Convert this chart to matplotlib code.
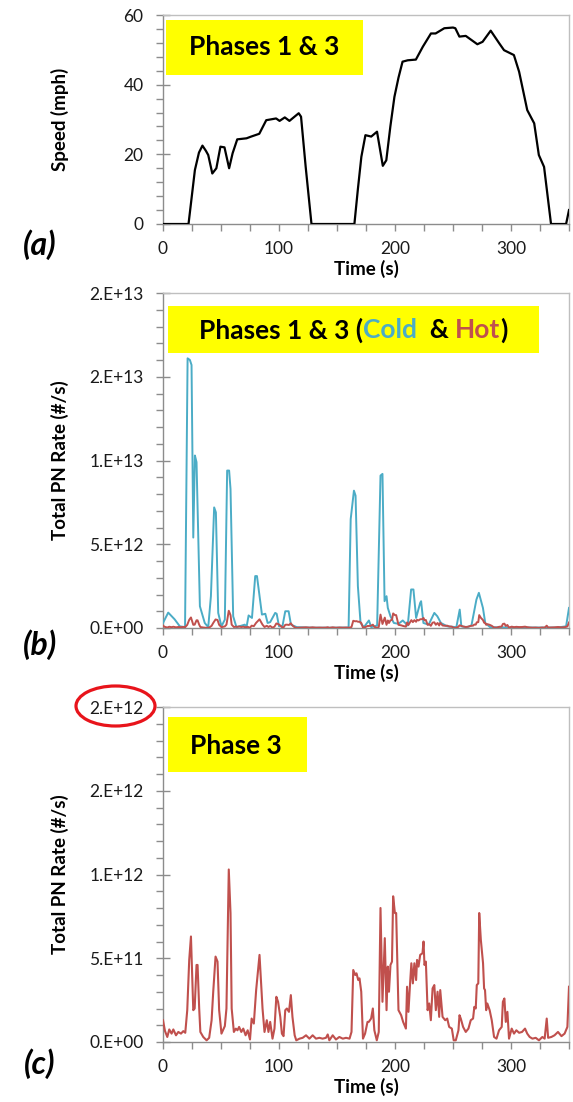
import matplotlib
matplotlib.use('Agg')
import matplotlib.pyplot as plt
from matplotlib.patches import Rectangle, Ellipse
from matplotlib.ticker import MultipleLocator, FuncFormatter

plt.rcParams['font.family'] = ['Lato', 'DejaVu Sans']

# Speed trace (phases 1 & 3), time in s, speed in mph
speed_t = [0, 22, 27.5, 31, 34, 37, 39, 42.5, 46, 49.5, 53, 57, 60, 64, 72, 76, 83, 89,
           97.5, 100.5, 105, 109, 117, 119, 123, 128, 165, 168, 171, 174.5, 179.5, 184.5,
           189.5, 192.5, 196, 199.5, 203, 206.5, 211, 218, 224, 231, 235, 242.5, 250, 252,
           255.5, 261, 271, 275.5, 282.5, 290, 294, 302.5, 307, 314, 320, 324, 328.5,
           334.5, 347.5, 350]
speed_v = [0, 0, 15.5, 20.5, 22.5, 21, 19.8, 14.5, 16, 22.2, 22, 16, 20.3, 24.3, 24.6,
           25.1, 25.9, 29.8, 30.3, 29.6, 30.6, 29.6, 31.8, 30.8, 16.4, 0, 0, 10, 19.3,
           25.5, 25.1, 26.5, 16.7, 18.3, 28, 36.5, 42, 46.6, 47, 47.2, 50.9, 54.7, 54.7,
           56.2, 56.4, 56.2, 53.8, 54, 51.6, 52.3, 55.5, 51.8, 49.9, 48.5, 43.7, 32.7,
           28.9, 19.8, 16.4, 0, 0, 4]

# Cold start PN rate (x 1e12 #/s)
cold_t = [0, 4.5, 10, 14.5, 19, 21.2, 23.2, 24.6, 26.1, 27.5, 28.9, 31.8, 36, 39, 41.3,
          44.1, 45.6, 47.6, 50.4, 53.3, 55.3, 57, 58.2, 60.5, 63.3, 70.5, 72, 73.8, 76.7,
          79.5, 81, 85.3, 88.2, 90.2, 92.4, 96.7, 98, 100, 103, 105.4, 108.3, 110.3,
          115.4, 130, 145, 160, 161.8, 164.6, 166, 168, 170.3, 173.2, 177.5, 179.5,
          184.6, 187.5, 189.2, 191, 192.7, 193.8, 196.1, 199, 203, 206.7, 211, 213.9,
          215.9, 218.2, 221.7, 222.5, 224.5, 229, 233.9, 236.5, 239.6, 245, 252.9,
          255.8, 257.2, 262, 265.9, 270.2, 272.3, 275.8, 277.8, 282, 300, 320, 340,
          347.5, 350]
cold_v = [0.3, 0.92, 0.52, 0.1, 0.05, 16.1, 16.0, 15.7, 5.4, 10.3, 9.9, 1.3, 0.3, 0.05,
          1.9, 7.2, 6.9, 0.9, 0.1, 0.5, 9.4, 9.4, 8.3, 0.7, 0.05, 0.2, 0.05, 0.75, 0.6,
          3.1, 3.1, 0.8, 0.85, 0.3, 0.35, 0.9, 0.85, 0.1, 0.12, 1.0, 1.0, 0.2, 0.05,
          0.02, 0.02, 0.03, 6.5, 8.2, 7.9, 2.5, 0.3, 0.05, 0.45, 0.05, 0.15, 9.1, 9.2,
          1.6, 1.9, 1.2, 0.7, 0.3, 0.25, 0.45, 0.15, 2.3, 2.3, 0.6, 1.5, 1.6, 0.3, 0.2,
          0.9, 0.7, 0.3, 0.1, 0.05, 1.1, 0.1, 0.05, 0.15, 1.7, 2.1, 1.2, 0.3, 0.05,
          0.03, 0.03, 0.03, 0.1, 1.2]

# Hot start PN rate (x 1e11 #/s)
hot_t = [0, 1.7, 3.7, 5.4, 7.4, 8.9, 11.2, 13.2, 15.5, 17.5, 19.2, 20.9, 22.6, 24.1, 26.1,
         27.3, 28.9, 29.8, 31.2, 32.2, 34.7, 37.6, 39.8, 41.9, 43.3, 45.3, 47, 48.4, 50.4,
         53.3, 54.7, 56.7, 58.2, 59.2, 61.1, 62.8, 64.2, 65.6, 67.5, 69.2, 71.2, 73, 75,
         76.4, 78.3, 80.3, 83.2, 85.8, 87.5, 89.5, 90.9, 92.4, 94.4, 96.1, 97.7, 99.2,
         101.1, 102.5, 103.9, 105.4, 106.8, 108.6, 110.2, 111.6, 113.5, 114.9, 117.7,
         120.4, 123.3, 126.2, 129, 131.9, 134.8, 137.6, 140.5, 142, 143.4, 146.3, 149.1,
         152, 155, 157.8, 160.8, 162.5, 164, 165.7, 166.8, 168.3, 169.4, 170.9, 172.4,
         174.2, 176.3, 177.4, 179.4, 180.9, 182.2, 184.3, 186, 187.5, 189.2, 191.2,
         192.7, 193.8, 194.8, 196.1, 197.4, 198.4, 199.9, 201, 203, 205.3, 207, 209.4,
         210.4, 211.6, 213, 214.1, 215.4, 216.7, 218.2, 219, 220.3, 221.7, 223.7, 224.6,
         225.4, 226.6, 228.1, 229.5, 230.9, 232.4, 233.9, 235.2, 236.7, 238.1, 239, 241,
         243.3, 245, 246.7, 249, 250.6, 252.4, 254.7, 255.6, 256.7, 258.7, 261, 263.3,
         265.3, 267.3, 268.4, 269.6, 270.5, 271.8, 272.6, 274, 275.9, 276.8, 277.6,
         278.6, 279.6, 281.6, 283.4, 285.4, 287.5, 289.7, 292, 293, 294.3, 295.5, 296.9,
         298.3, 300.6, 302.6, 304.6, 307, 309.5, 312.1, 314, 316.1, 318.5, 321.3, 324.1,
         327, 329, 330.8, 332, 334.8, 337.5, 340.5, 343.5, 346.2, 348.6, 350]
hot_v = [1.3, 0.66, 0.3, 0.75, 0.5, 0.75, 0.4, 0.6, 0.5, 0.65, 0.55, 1.9, 4.9, 6.3, 1.9,
         2.0, 4.6, 4.6, 2.0, 0.6, 0.3, 0.1, 0.25, 1.3, 3.0, 5.1, 4.8, 1.9, 0.5, 0.95, 2.0,
         10.3, 7.7, 2.0, 0.6, 0.8, 0.7, 0.9, 0.6, 0.8, 0.4, 0.7, 0.15, 1.4, 1.1, 3.1, 5.2,
         2.0, 0.6, 1.3, 0.6, 1.2, 0.2, 0.8, 2.7, 2.4, 1.5, 0.5, 0.35, 1.9, 2.0, 1.8, 2.8,
         1.5, 0.4, 0.1, 0.2, 0.25, 0.4, 0.2, 0.4, 0.2, 0.25, 0.2, 0.25, 0.45, 0.1, 0.4,
         0.15, 0.3, 0.2, 0.25, 0.2, 0.6, 4.3, 4.0, 4.1, 3.7, 3.8, 3.0, 0.2, 0.5, 1.2, 1.2,
         1.4, 2.0, 0.7, 0.1, 0.6, 8.0, 2.4, 6.2, 1.9, 4.5, 3.0, 4.6, 4.8, 8.7, 7.7, 7.7,
         1.9, 1.6, 1.2, 0.8, 3.3, 1.8, 3.5, 4.7, 3.5, 4.7, 3.7, 4.9, 4.5, 5.2, 5.3, 6.0,
         4.6, 4.8, 1.9, 2.3, 1.3, 3.2, 3.4, 1.9, 3.0, 1.5, 3.1, 1.5, 1.3, 1.4, 0.9, 0.8,
         0.1, 0.1, 0.7, 1.6, 1.4, 0.9, 0.6, 0.8, 1.3, 1.4, 2.1, 2.0, 3.4, 3.5, 7.7, 6.1,
         4.7, 3.2, 3.1, 1.9, 2.3, 1.9, 1.3, 0.3, 0.2, 0.7, 0.9, 2.4, 2.6, 1.2, 1.8, 0.2,
         0.8, 0.5, 0.7, 0.55, 0.6, 0.8, 0.5, 0.3, 0.2, 0.25, 0.1, 0.3, 0.2, 1.4, 0.25,
         0.3, 0.4, 0.6, 0.35, 0.5, 0.9, 3.3]

cold_pn = [v * 1e12 for v in cold_v]
hot_pn = [v * 1e11 for v in hot_v]

COLD = '#4BACC6'
HOT = '#C0504D'
YELLOW = '#FFFF00'
GRAY = '#8C8C8C'

fig = plt.figure(figsize=(5.73, 11.02), dpi=100)
W, H = 573, 1102


def make_axes(top, bottom):
    left, right = 163, 569
    return fig.add_axes([left / W, 1 - bottom / H, (right - left) / W, (bottom - top) / H])


def style(ax, ymax, ymajor, yminor, ylabel, fmt=None, label_off=45):
    ax.set_xlim(0, 350)
    ax.set_ylim(0, ymax)
    ax.xaxis.set_major_locator(MultipleLocator(100))
    ax.xaxis.set_minor_locator(MultipleLocator(25))
    ax.yaxis.set_major_locator(MultipleLocator(ymajor))
    ax.yaxis.set_minor_locator(MultipleLocator(yminor))
    if fmt:
        ax.yaxis.set_major_formatter(FuncFormatter(fmt))
    for s in ax.spines.values():
        s.set_color('#BFBFBF')
        s.set_linewidth(1.0)
    ax.spines['left'].set_color(GRAY)
    ax.spines['bottom'].set_color(GRAY)
    ax.tick_params(axis='x', which='both', direction='out', length=5, width=1,
                   color=GRAY, labelsize=12.5, pad=7, labelcolor='#1A1A1A')
    ax.tick_params(axis='y', which='major', direction='inout', length=10, width=1,
                   color=GRAY, labelsize=12.5, pad=9, labelcolor='#1A1A1A')
    ax.tick_params(axis='y', which='minor', direction='out', length=5, width=1, color=GRAY)
    ax.set_xlabel('Time (s)', fontsize=13.5, fontweight='bold')
    ax.set_ylabel(ylabel, fontsize=13.5, fontweight='bold')
    hpx = ax.get_position().height * H
    ax.xaxis.set_label_coords(0.5, -label_off / hpx)
    ax.xaxis.label.set_va('center')
    ax.yaxis.set_label_coords(-103 / 406, 0.5)
    ax.yaxis.label.set_va('center')


def sci(v, pos):
    # Excel-like "0.E+00" format
    return f'{v:#.0E}'


def yellow_box(ax, x0, x1, y0, y1):
    ax.add_patch(Rectangle((x0, y0), x1 - x0, y1 - y0, transform=ax.transAxes,
                           facecolor=YELLOW, edgecolor='none', zorder=5))


# (a) speed
ax1 = make_axes(15, 224)
ax1.plot(speed_t, speed_v, color='black', lw=1.6, zorder=3)
style(ax1, 60, 20, 4, 'Speed (mph)')
yellow_box(ax1, 0.0074, 0.4926, 0.713, 0.976)
ax1.text(0.25, 0.845, 'Phases 1 & 3', transform=ax1.transAxes, ha='center', va='center',
         fontsize=19, fontweight='bold', zorder=6)

# (b) cold & hot PN
ax2 = make_axes(293, 628)
ax2.plot(cold_t, cold_pn, color=COLD, lw=1.4, zorder=3)
ax2.plot(hot_t, hot_pn, color=HOT, lw=1.4, zorder=4)
style(ax2, 2e13, 5e12, 1e12, 'Total PN Rate (#/s)', fmt=sci)
yellow_box(ax2, 0.0123, 0.926, 0.821, 0.961)

# multi-coloured label inside the yellow box
renderer = fig.canvas.get_renderer()
pieces = [('Phases 1 & 3 (', 'black'), ('Cold', COLD), ('  & ', 'black'),
          ('Hot', HOT), (')', 'black')]
texts = []
widths = []
for s, c in pieces:
    t = ax2.text(0, 0.89, s, transform=ax2.transAxes, ha='left', va='center',
                 fontsize=19, fontweight='bold', color=c, zorder=6)
    widths.append(t.get_window_extent(renderer).width)
    texts.append(t)
ax_w = ax2.get_position().width * W
x = (0.0123 + 0.926) / 2 - sum(widths) / ax_w / 2
for t, w in zip(texts, widths):
    t.set_x(x)
    x += w / ax_w

# (c) hot PN only
ax3 = make_axes(707, 1042)
ax3.plot(hot_t, hot_pn, color=HOT, lw=1.5, zorder=3)
style(ax3, 2e12, 5e11, 1e11, 'Total PN Rate (#/s)', fmt=sci)
yellow_box(ax3, 0.0123, 0.355, 0.806, 0.970)
ax3.text(0.18, 0.885, 'Phase 3', transform=ax3.transAxes, ha='center', va='center',
         fontsize=19, fontweight='bold', zorder=6)

# panel letters
for lab, yy in [('(a)', 245), ('(b)', 645), ('(c)', 1064)]:
    fig.text(40 / W, 1 - yy / H, lab, ha='center', va='center', fontsize=23,
             fontweight='bold', fontstyle='italic')

# red ellipse around the top tick label of (c)
fig.add_artist(Ellipse((115.5 / W, 1 - 706 / H), 79 / W, 40 / H, transform=fig.transFigure,
                       facecolor='none', edgecolor='#E8141B', lw=2.3))

fig.savefig('out.png', dpi=100)
